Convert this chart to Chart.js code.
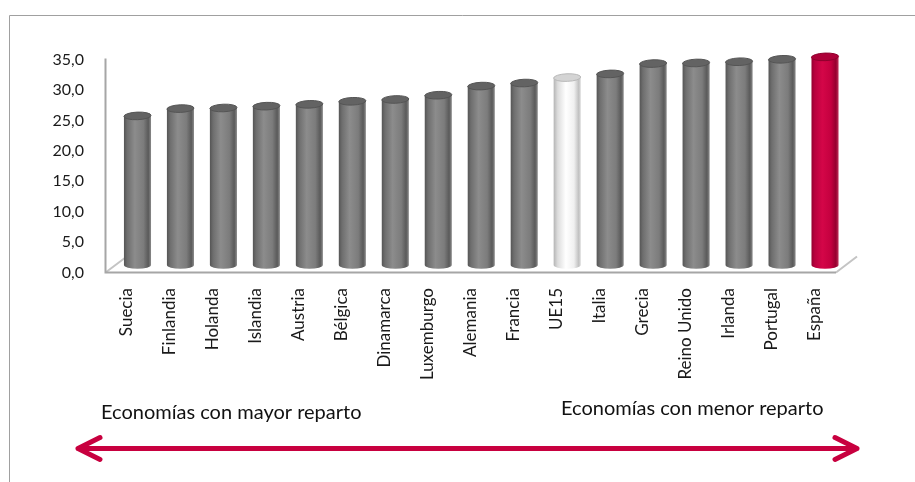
<!DOCTYPE html>
<html lang="es">
<head>
<meta charset="utf-8">
<title>Reparto por países</title>
<script src="https://cdn.jsdelivr.net/npm/chart.js@4/dist/chart.umd.min.js"></script>
<style>
  html, body { margin: 0; padding: 0; background: #ffffff; }
  #wrap { position: relative; width: 915px; height: 482px; }
</style>
</head>
<body>
<div id="wrap"><canvas id="c" width="915" height="482"></canvas></div>
<script>
// Categories and values
const countries = ['Suecia', 'Finlandia', 'Holanda', 'Islandia', 'Austria', 'Bélgica',
  'Dinamarca', 'Luxemburgo', 'Alemania', 'Francia', 'UE15', 'Italia', 'Grecia',
  'Reino Unido', 'Irlanda', 'Portugal', 'España'];
const values = [24.5, 25.7, 25.8, 26.1, 26.4, 26.9, 27.2, 27.9, 29.4, 29.9, 30.8,
  31.4, 33.1, 33.2, 33.4, 33.8, 34.2];
const yTickValues = [0, 5, 10, 15, 20, 25, 30, 35];
const leftNote = 'Economías con mayor reparto';
const rightNote = 'Economías con menor reparto';

// Cylinder colour schemes
const palettes = {
  grey:  { stops: [[0, '#555555'], [0.12, '#6e6e6e'], [0.4, '#8c8c8c'], [0.72, '#7c7c7c'], [0.9, '#5a5a5a'], [1, '#8a8a8a']], cap: '#636363', capEdge: '#555555' },
  white: { stops: [[0, '#b4b4b4'], [0.15, '#dcdcdc'], [0.45, '#ffffff'], [0.75, '#f0f0f0'], [0.92, '#c2c2c2'], [1, '#d8d8d8']], cap: '#d4d4d4', capEdge: '#b8b8b8' },
  red:   { stops: [[0, '#930030'], [0.12, '#b8003e'], [0.4, '#d40648'], [0.72, '#c4003f'], [0.9, '#96002f'], [1, '#c0305a']], cap: '#ad0038', capEdge: '#8e002d' }
};
function paletteFor(name) {
  if (name === 'UE15') return palettes.white;
  if (name === 'España') return palettes.red;
  return palettes.grey;
}

// Half of the 3D depth offset: the cylinders stand mid-way between the front and back of the floor
const DEPTH_X = 10.5;
const DEPTH_Y = 7.5;
const FONT = 'Lato, "Open Sans", sans-serif';

// Frame, floor and value-axis wall line
const floorPlugin = {
  id: 'floor',
  beforeDatasetsDraw(chart) {
    const ctx = chart.ctx;
    const area = chart.chartArea;
    const ys = chart.scales.y;
    const base = ys.getPixelForValue(0);
    const top = ys.getPixelForValue(35);
    ctx.save();
    // outer frame
    ctx.strokeStyle = '#a0a0a0';
    ctx.lineWidth = 1;
    ctx.beginPath();
    ctx.moveTo(9.5, 482);
    ctx.lineTo(9.5, 15.5);
    ctx.lineTo(915, 15.5);
    ctx.stroke();
    // floor diagonals (front corner to back corner)
    ctx.strokeStyle = '#c4c4c4';
    ctx.lineWidth = 2;
    ctx.beginPath();
    ctx.moveTo(area.left - DEPTH_X, base + DEPTH_Y);
    ctx.lineTo(area.left + DEPTH_X - 1, base - DEPTH_Y);
    ctx.moveTo(area.right - DEPTH_X, base + DEPTH_Y);
    ctx.lineTo(area.right + DEPTH_X, base - DEPTH_Y - 1);
    ctx.stroke();
    // front floor edge and vertical axis edge
    ctx.strokeStyle = '#a6a6a6';
    ctx.lineWidth = 2;
    ctx.beginPath();
    ctx.moveTo(area.left - DEPTH_X, top + DEPTH_Y - 1);
    ctx.lineTo(area.left - DEPTH_X, base + DEPTH_Y);
    ctx.lineTo(area.right - DEPTH_X, base + DEPTH_Y);
    ctx.stroke();
    ctx.restore();
  }
};

// Draws each bar as a shaded cylinder from the bar element geometry
const cylinderPlugin = {
  id: 'cylinders',
  afterDatasetsDraw(chart) {
    const ctx = chart.ctx;
    const meta = chart.getDatasetMeta(0);
    meta.data.forEach((bar, i) => {
      const p = bar.getProps(['x', 'y', 'base', 'width'], true);
      const pal = paletteFor(countries[i]);
      const rx = p.width / 2;
      const ry = 3.8;
      const l = p.x - rx;
      const r = p.x + rx;
      const g = ctx.createLinearGradient(l, 0, r, 0);
      pal.stops.forEach(s => g.addColorStop(s[0], s[1]));
      ctx.save();
      // body with rounded bottom
      ctx.beginPath();
      ctx.moveTo(l, p.y);
      ctx.lineTo(l, p.base);
      ctx.ellipse(p.x, p.base, rx, ry, 0, Math.PI, 0, true);
      ctx.lineTo(r, p.y);
      ctx.closePath();
      ctx.fillStyle = g;
      ctx.fill();
      // top cap
      ctx.beginPath();
      ctx.ellipse(p.x, p.y, rx, ry, -0.04, 0, Math.PI * 2);
      ctx.fillStyle = pal.cap;
      ctx.fill();
      ctx.strokeStyle = pal.capEdge;
      ctx.lineWidth = 1;
      ctx.stroke();
      ctx.restore();
    });
  }
};

// Notes and double-headed arrow under the chart
const notesPlugin = {
  id: 'notes',
  afterDraw(chart) {
    const ctx = chart.ctx;
    ctx.save();
    ctx.fillStyle = '#111111';
    ctx.font = '20px ' + FONT;
    ctx.textBaseline = 'alphabetic';
    ctx.textAlign = 'left';
    ctx.fillText(leftNote, 101, 419);
    ctx.fillText(rightNote, 561, 415);

    const y = 448.5;
    const x0 = 78, x1 = 857;
    ctx.strokeStyle = '#c8003f';
    ctx.lineWidth = 5;
    ctx.lineCap = 'round';
    ctx.lineJoin = 'round';
    ctx.beginPath();
    ctx.moveTo(x0, y);
    ctx.lineTo(x1, y);
    ctx.moveTo(x0 + 22, y - 11);
    ctx.lineTo(x0, y);
    ctx.lineTo(x0 + 22, y + 11);
    ctx.moveTo(x1 - 22, y - 11);
    ctx.lineTo(x1, y);
    ctx.lineTo(x1 - 22, y + 11);
    ctx.stroke();
    ctx.restore();
  }
};

new Chart(document.getElementById('c'), {
  type: 'bar',
  data: {
    labels: countries,
    datasets: [{
      data: values,
      backgroundColor: 'rgba(0,0,0,0)',
      borderWidth: 0,
      barPercentage: 0.63,
      categoryPercentage: 1
    }]
  },
  options: {
    responsive: false,
    devicePixelRatio: 1,
    animation: false,
    events: [],
    layout: { padding: { top: 52, right: 68.5, left: 0, bottom: 0 } },
    plugins: { legend: { display: false }, tooltip: { enabled: false } },
    scales: {
      x: {
        grid: { display: false, drawTicks: false },
        border: { display: false },
        ticks: {
          autoSkip: false,
          minRotation: 90,
          maxRotation: 90,
          padding: 23,
          labelOffset: -DEPTH_X,
          color: '#1a1a1a',
          font: { family: FONT, size: 17 }
        },
        afterFit(scale) { scale.height = 217; }
      },
      y: {
        min: 0,
        max: 35,
        grid: { display: false, drawTicks: false },
        border: { display: false },
        afterBuildTicks(scale) { scale.ticks = yTickValues.map(v => ({ value: v })); },
        ticks: {
          padding: 32,
          labelOffset: DEPTH_Y,
          color: '#1a1a1a',
          font: { family: FONT, size: 16 },
          callback: v => v.toFixed(1).replace('.', ',')
        },
        afterFit(scale) { scale.width = 116; }
      }
    }
  },
  plugins: [floorPlugin, cylinderPlugin, notesPlugin]
});
</script>
</body>
</html>
